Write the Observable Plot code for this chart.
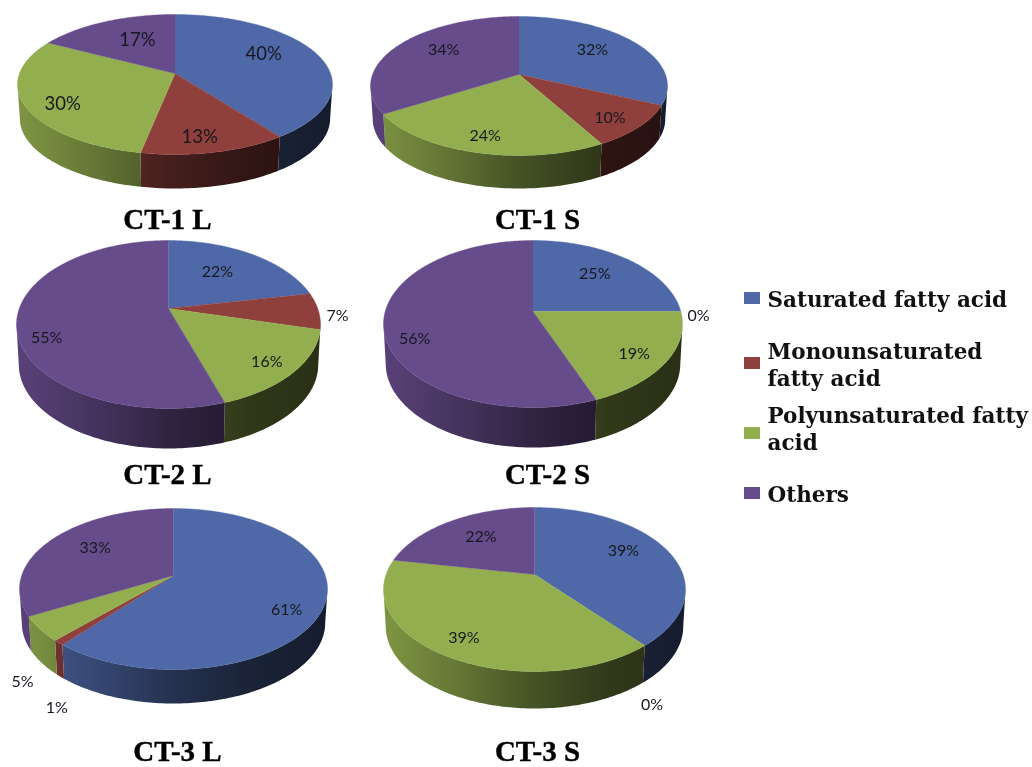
<!DOCTYPE html>
<html>
<head>
<meta charset="utf-8">
<script src="https://cdn.jsdelivr.net/npm/d3@7"></script>
<script src="https://cdn.jsdelivr.net/npm/@observablehq/plot@0.6"></script>
<style>
html,body{margin:0;padding:0;background:#fff}
svg{display:block;filter:blur(0.45px)}
</style>
</head>
<body>
<div id="chart"></div>
<script>
// ---- data ----
const pieNames = ["CT-1 L", "CT-1 S", "CT-2 L", "CT-2 S", "CT-3 L", "CT-3 S"];
const categories = ["Saturated fatty acid", "Monounsaturated\nfatty acid", "Polyunsaturated fatty\nacid", "Others"];
const saturated = [40, 32, 22, 25, 61, 39];
const monounsaturated = [13, 10, 7, 0, 1, 0];
const polyunsaturated = [30, 24, 16, 19, 5, 39];
const others = [17, 34, 55, 56, 33, 22];
const series = [saturated, monounsaturated, polyunsaturated, others];

// ---- layout and styles ----
const palette = ["#4f69a8", "#8f3f3c", "#93ae4e", "#674c8c"];
// ellipse centre, radii, apex height (perspective), wall depth, title position, label size
const pieLayout = [
  {cx:174.5, cy:84,    rx:157.5, ry:70,   ay:73,  depth:34, tx:167, ty:219, fs:18.5},
  {cx:518.5, cy:85.5,  rx:148.5, ry:69.5, ay:74,  depth:33, tx:537, ty:219, fs:16},
  {cx:168,   cy:324,   rx:152,   ry:84,   ay:308, depth:40, tx:167, ty:474, fs:16},
  {cx:532.5, cy:323.5, rx:149.5, ry:83.5, ay:311, depth:40, tx:547, ty:474, fs:16},
  {cx:173,   cy:588.5, rx:154,   ry:80.5, ay:575, depth:34, tx:177, ty:751.5, fs:16},
  {cx:534,   cy:589,   rx:151,   ry:82,   ay:574, depth:37, tx:537, ty:751.5, fs:16}
];
// label placement: radial factor per pie/slice, and angle shift from the slice's middle
const labelRadius = [
  [.663,.829,.797,.585],[.664,.81,.81,.675],[.616,1.116,.83,.836],
  [.671,1.113,.797,.827],[.804,1.45,1.372,.666],[.711,1.406,.815,.647]
];
const labelShift = [
  [-8,3,-7,4],[-4,3,0,7],[-4,3,2,-15],[-3,2.5,3,-12],[10.5,-17,-16,4],[-7,14,0,2]
];
const legendSwatchY = [298, 363, 433, 493];
const legendTextY = [298, 363, 427, 493];
const legendX = {x1:744, x2:760, text:767};

const shadeAt = [-1, -.5, 0, .5, 1];
const shadeBy = [.86, .68, .47, .33, .27];
const darken = (c,k) => { const r = d3.rgb(c); return d3.rgb(r.r*k, r.g*k, r.b*k).formatHex(); };

// circle point at an angle (degrees clockwise from top), seen in perspective
function warp(p, deg, r = 1) {
  const t = deg * Math.PI / 180, x = r * Math.sin(t), y = -r * Math.cos(t);
  const a = (p.ay - p.cy) / p.ry, d = 1 + a * y;
  const xx = x * Math.sqrt(1 - a * a) / d, yy = (y + a) / d;
  return {x: p.cx + p.rx * xx, y: p.cy + p.ry * yy, xx, yy};
}

const walls = [], tops = [], labels = [], titles = [];
pieNames.forEach((name, i) => {
  const p = pieLayout[i];
  titles.push({name, x: p.tx, y: p.ty});
  let cum = 0;
  series.forEach((s, k) => {
    const v = s[i], a0 = cum * 3.6, a1 = (cum + v) * 3.6;
    cum += v;
    const mid = (a0 + a1) / 2;
    const lp = warp(p, mid + labelShift[i][k], labelRadius[i][k]);
    labels.push({text: v + "%", x: lp.x, y: lp.y, size: p.fs});
    if (v === 0) return;
    const n = Math.max(2, Math.ceil(a1 - a0));
    const id = `${i}-${k}`;
    tops.push({id, x: p.cx, y: p.ay, c: palette[k]});
    const rim = [];
    for (let j = 0; j <= n; j++) {
      const q = warp(p, a0 + (a1 - a0) * j / n);
      tops.push({id, x: q.x, y: q.y, c: palette[k]});
      if (q.yy >= -0.005) rim.push(q);
    }
    // side wall: the visible rim, then the same rim lowered by the depth
    if (rim.length > 1) {
      const low = rim.map(o => ({x: p.cx + (o.x - p.cx) * .985, y: o.y + p.depth})).reverse();
      [...rim, ...low].forEach(o => walls.push({id, x: o.x, y: o.y, c: `url(#wall-${id})`}));
    }
  });
});

// a horizontal shading for every pie's wall, one per slice colour
function wallGradients() {
  const defs = d3.create("svg:defs");
  pieLayout.forEach((p, i) => palette.forEach((c, k) => {
    const g = defs.append("linearGradient").attr("id", `wall-${i}-${k}`)
      .attr("gradientUnits", "userSpaceOnUse")
      .attr("x1", p.cx - p.rx).attr("x2", p.cx + p.rx).attr("y1", 0).attr("y2", 0);
    shadeAt.forEach((u, m) => g.append("stop")
      .attr("offset", (u + 1) / 2)
      .attr("stop-color", darken(c, shadeBy[m])));
  }));
  return defs.node();
}

const swatches = categories.map((c, k) => ({k, y: legendSwatchY[k], c: palette[k]}));
const legendLabels = categories.map((c, k) => ({text: c, y: legendTextY[k]}));

const chart = Plot.plot({
  width: 1032, height: 767,
  margin: 0,
  style: {background: "#fff"},
  x: {domain: [0, 1032], range: [0, 1032], axis: null},
  y: {domain: [0, 767], range: [0, 767], axis: null},
  color: {type: "identity"},
  marks: [
    wallGradients,
    Plot.line(walls, {x: "x", y: "y", z: "id", fill: "c", stroke: "none", curve: "linear"}),
    Plot.line(tops, {x: "x", y: "y", z: "id", fill: "c", stroke: "c", strokeWidth: 0.4, curve: "linear"}),
    Plot.text(labels, {x: "x", y: "y", text: "text", fontSize: d => d.size, fontFamily: "Lato, sans-serif", fill: "#17181f"}),
    Plot.text(titles, {x: "x", y: "y", text: "name", fontSize: 29, fontWeight: "bold", fontFamily: "'Liberation Serif', serif", fill: "#000", stroke: "#000", strokeWidth: 0.4}),
    Plot.rect(swatches, {x1: () => legendX.x1, x2: () => legendX.x2, y1: d => d.y - 6, y2: d => d.y + 6, fill: "c"}),
    Plot.text(legendLabels, {x: () => legendX.text, y: "y", text: "text", textAnchor: "start", lineAnchor: "middle", lineHeight: 1.26, fontSize: 21.5, fontWeight: "bold", fontFamily: "'DejaVu Serif', serif", fill: "#111"})
  ]
});
document.getElementById("chart").appendChild(chart);
</script>
</body>
</html>
